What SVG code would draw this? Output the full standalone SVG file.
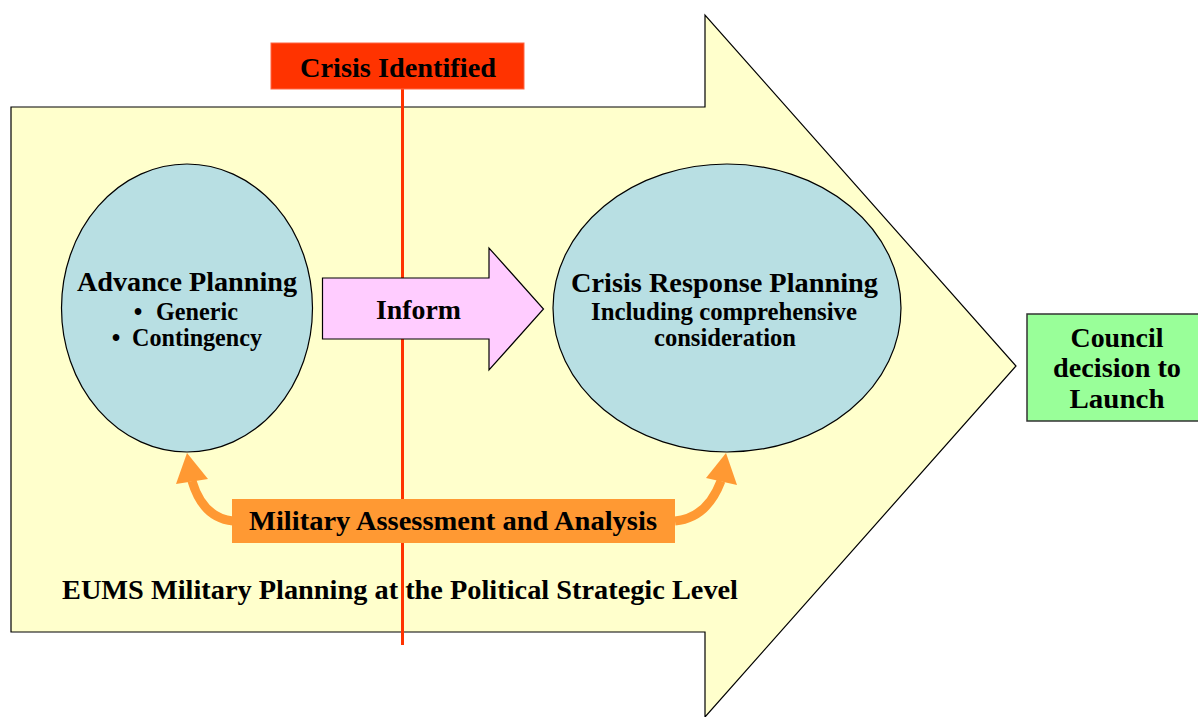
<svg xmlns="http://www.w3.org/2000/svg" width="1198" height="717" viewBox="0 0 1198 717">
<style>
text{font-family:"Liberation Serif","Times New Roman",serif;font-weight:bold;fill:#000;text-anchor:middle}
.t28{font-size:28px}
.t24{font-size:24.5px}
.ell{fill:#B8DFE3;stroke:#000;stroke-width:1.2}
.curve{fill:none;stroke:#FF9933;stroke-width:9}
.head{fill:#FF9933}
</style>
<rect width="1198" height="717" fill="#fff"/>
<g id="big-arrow">
<polygon points="11,107 705,107 705,15 1016,366 705,717 705,632 11,632" fill="#FFFFCC" stroke="#000" stroke-width="1.2"/>
<text x="62" y="599" style="text-anchor:start;font-size:28px" textLength="676" lengthAdjust="spacingAndGlyphs">EUMS Military Planning at the Political Strategic Level</text>
</g>
<g id="connectors">
<line x1="402.5" y1="89" x2="402.5" y2="645" stroke="#FF3300" stroke-width="3"/>
<path class="curve" d="M233,521 Q203,518 192,481"/>
<polygon class="head" points="187,453 176,484 208,479"/>
<path class="curve" d="M675,521 Q707,518 721,481"/>
<polygon class="head" points="726,453 706,478 737,485"/>
</g>
<g id="crisis-identified">
<rect x="271" y="43" width="253" height="46" fill="#FF3300" stroke="#FF6644" stroke-width="1"/>
<text class="t28" x="398" y="77" textLength="196" lengthAdjust="spacingAndGlyphs">Crisis Identified</text>
</g>
<g id="advance-planning">
<ellipse class="ell" cx="187" cy="308" rx="125.5" ry="144"/>
<text class="t28" x="187" y="291" textLength="220" lengthAdjust="spacingAndGlyphs">Advance Planning</text>
<text class="t24" x="138" y="320">•</text>
<text class="t24" x="156" y="320" style="text-anchor:start" textLength="82" lengthAdjust="spacingAndGlyphs">Generic</text>
<text class="t24" x="116" y="346">•</text>
<text class="t24" x="132" y="346" style="text-anchor:start" textLength="130" lengthAdjust="spacingAndGlyphs">Contingency</text>
</g>
<g id="inform">
<polygon points="322.5,278 489,278 489,248 543.5,309 489,370 489,339 322.5,339" fill="#FFCCFF" stroke="#000" stroke-width="1.2"/>
<text class="t28" x="418.5" y="319" textLength="85" lengthAdjust="spacingAndGlyphs">Inform</text>
</g>
<g id="crisis-response-planning">
<ellipse class="ell" cx="727" cy="308" rx="174" ry="144"/>
<text class="t28" x="724.5" y="292" textLength="307" lengthAdjust="spacingAndGlyphs">Crisis Response Planning</text>
<text class="t24" x="724" y="320" textLength="266" lengthAdjust="spacingAndGlyphs">Including comprehensive</text>
<text class="t24" x="725" y="346" textLength="142" lengthAdjust="spacingAndGlyphs">consideration</text>
</g>
<g id="military-assessment">
<rect x="232" y="499" width="443" height="44" fill="#FF9933"/>
<text class="t28" x="453" y="530" textLength="408" lengthAdjust="spacingAndGlyphs">Military Assessment and Analysis</text>
</g>
<g id="council-decision">
<rect x="1027" y="314" width="174" height="107" fill="#99FF99" stroke="#333" stroke-width="1.5"/>
<text class="t28" x="1117" y="347" textLength="93" lengthAdjust="spacingAndGlyphs">Council</text>
<text class="t28" x="1117" y="377" textLength="128" lengthAdjust="spacingAndGlyphs">decision to</text>
<text class="t28" x="1117" y="408" textLength="95" lengthAdjust="spacingAndGlyphs">Launch</text>
</g>
</svg>
